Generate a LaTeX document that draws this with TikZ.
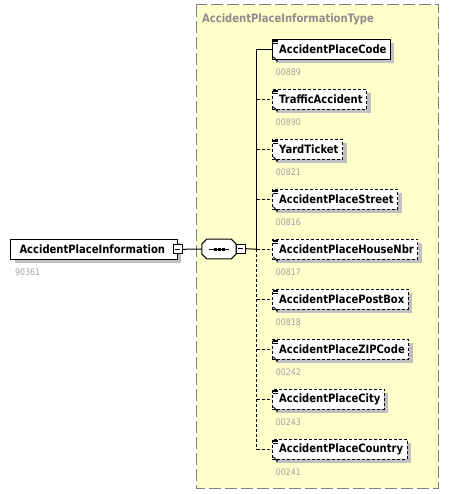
\documentclass[tikz,border=0pt]{standalone}
\usepackage{fontspec}
\setmainfont{Liberation Sans}
\newfontfamily\elfam[FakeStretch=0.87]{DejaVu Sans}
\usetikzlibrary{positioning,shadows,arrows.meta}

\definecolor{boxyellow}{RGB}{255,255,204}
\definecolor{shadowgray}{RGB}{192,192,192}
\definecolor{framegray}{RGB}{128,128,128}
\definecolor{titlegray}{RGB}{140,140,140}
\definecolor{idgray}{RGB}{160,160,160}

\newcommand{\elfont}{\elfam\fontsize{11.5}{14}\selectfont\bfseries}

\tikzset{
  elembase/.style={draw,rectangle,fill=white,line width=1pt,minimum height=20pt,inner xsep=0pt,inner ysep=0pt,
    font=\elfont,anchor=west,
    drop shadow={shadow xshift=4pt,shadow yshift=-4pt,opacity=1,fill=shadowgray}},
  elem/.style={elembase,execute at begin node=\hspace*{7pt},execute at end node=\hspace*{4pt}},
  optelem/.style={elem,dash pattern=on 3pt off 2pt},
  idtext/.style={inner sep=0pt,text=idgray,font=\elfam\fontsize{9}{10}\selectfont,anchor=west},
  minusbox/.style={draw,rectangle,fill=white,line width=1pt,minimum width=9pt,minimum height=9pt,inner sep=0pt},
  conn/.style={line width=1pt},
  optconn/.style={conn,dash pattern=on 3pt off 2pt}
}

\newcommand{\elicon}[1]{
  \foreach \dy in {1.5,3,4.5}
    {\draw[line width=0.8pt] ([xshift=1.5pt,yshift=-\dy pt]#1.north west) -- ++(5pt,0);}
  \draw[line width=0.9pt,-{Latex[length=2.5pt,width=2.5pt]}] ([xshift=1.5pt,yshift=3pt]#1.south west) -- ++(5pt,-5pt);
}

\begin{document}
\begin{tikzpicture}[x=1pt,y=-1pt]
    \useasboundingbox (0,0) rectangle (453,494);
    \draw[framegray,fill=boxyellow,line width=1pt,dash pattern=on 12pt off 4pt] (196,5) rectangle (438.5,488);
    \node[anchor=west,inner sep=0pt,text=titlegray,font=\elfont] (title) at (202,19) {AccidentPlaceInformationType};

    \node[elembase,execute at begin node=\hspace*{9pt},execute at end node=\hspace*{12pt}] (root) at (10,249.3) {AccidentPlaceInformation};
    \node[idtext,below right=12pt and 5pt of root.south west,anchor=west] (i0) {90361};
    \node[minusbox] (rootm) at (root.east) {};
    \draw[conn] (rootm.center) ++(-2.5pt,0) -- ++(5pt,0);

    \node[minimum width=34pt,minimum height=19.5pt,inner sep=0pt] (seq) at (219,249) {};
    \fill[shadowgray,shift={(4,4)}] ([xshift=5pt]seq.north west) -- ([xshift=-5pt]seq.north east) -- ([yshift=-5pt]seq.north east)
      -- ([yshift=5pt]seq.south east) -- ([xshift=-5pt]seq.south east) -- ([xshift=5pt]seq.south west)
      -- ([yshift=5pt]seq.south west) -- ([yshift=-5pt]seq.north west) -- cycle;
    \filldraw[fill=white,line width=1pt] ([xshift=5pt]seq.north west) -- ([xshift=-5pt]seq.north east) -- ([yshift=-5pt]seq.north east)
      -- ([yshift=5pt]seq.south east) -- ([xshift=-5pt]seq.south east) -- ([xshift=5pt]seq.south west)
      -- ([yshift=5pt]seq.south west) -- ([yshift=-5pt]seq.north west) -- cycle;
    \draw[conn] ([xshift=-10pt]seq.center) -- ([xshift=10pt]seq.center);
    \foreach \d in {-4,0,4}
      {\fill ([xshift=\d pt]seq.center) +(-1.5,-1.5) rectangle +(1.5,1.5);}
    \node[minusbox] (seqm) at (240.6,248.7) {};
    \draw[conn] (seqm.center) ++(-2.5pt,0) -- ++(5pt,0);

    \node[elem] (e1) at (271.7,49.3) {AccidentPlaceCode};
    \node[optelem] (e2) at (271.7,99.3) {TrafficAccident};
    \node[optelem] (e3) at (271.7,149.3) {YardTicket};
    \node[optelem] (e4) at (271.7,199.3) {AccidentPlaceStreet};
    \node[optelem] (e5) at (271.7,249.3) {AccidentPlaceHouseNbr};
    \node[optelem] (e6) at (271.7,299.3) {AccidentPlacePostBox};
    \node[optelem] (e7) at (271.7,349.3) {AccidentPlaceZIPCode};
    \node[optelem] (e8) at (271.7,399.3) {AccidentPlaceCity};
    \node[optelem] (e9) at (271.7,449.3) {AccidentPlaceCountry};

    \node[idtext,below right=12pt and 4pt of e1.south west,anchor=west] (i1) {00889};
    \node[idtext,below right=12pt and 4pt of e2.south west,anchor=west] (i2) {00890};
    \node[idtext,below right=12pt and 4pt of e3.south west,anchor=west] (i3) {00821};
    \node[idtext,below right=12pt and 4pt of e4.south west,anchor=west] (i4) {00816};
    \node[idtext,below right=12pt and 4pt of e5.south west,anchor=west] (i5) {00817};
    \node[idtext,below right=12pt and 4pt of e6.south west,anchor=west] (i6) {00818};
    \node[idtext,below right=12pt and 4pt of e7.south west,anchor=west] (i7) {00242};
    \node[idtext,below right=12pt and 4pt of e8.south west,anchor=west] (i8) {00243};
    \node[idtext,below right=12pt and 4pt of e9.south west,anchor=west] (i9) {00241};

    \foreach \k in {1,...,9}
      {\elicon{e\k}}

    \coordinate (j) at (256.7,249.3);
    \draw[conn] (rootm.east) -- (seq.west);
    \draw[conn] (seqm.east) -- (j);
    \foreach \k in {2,...,9}
      {\draw[optconn] (j) |- (e\k.west);}
    \draw[conn] (j) |- (e1.west);

\end{tikzpicture}
\end{document}
